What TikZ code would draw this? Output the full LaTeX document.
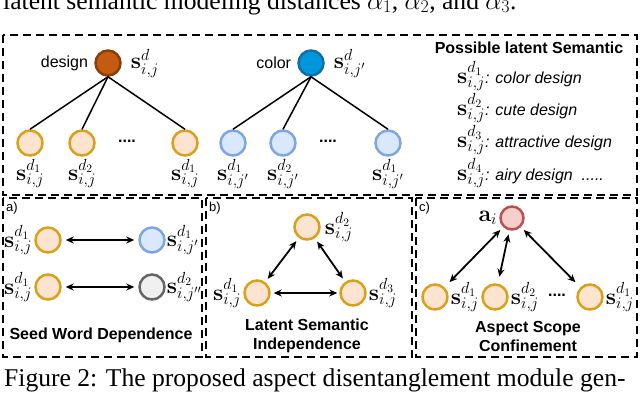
\RequirePackage{fix-cm}
\documentclass[tikz,border=0pt]{standalone}
\usepackage[no-math]{fontspec}
\setmainfont{Liberation Serif}
\setsansfont{Liberation Sans}
\usetikzlibrary{arrows.meta,positioning}
\definecolor{seedbrown}{RGB}{197,90,17}
\definecolor{seedbrowndark}{RGB}{140,62,10}
\definecolor{seedblue}{RGB}{0,150,219}
\definecolor{seedbluedark}{RGB}{16,110,170}
\definecolor{latfill}{RGB}{252,228,208}
\definecolor{latdraw}{RGB}{218,160,28}
\definecolor{bluefill}{RGB}{218,232,252}
\definecolor{bluedraw}{RGB}{126,166,224}
\definecolor{greyfill}{RGB}{240,240,240}
\definecolor{greydraw}{RGB}{102,102,102}
\definecolor{aspfill}{RGB}{248,206,204}
\definecolor{aspdraw}{RGB}{184,84,80}
\newcommand{\sv}[2]{{\fontsize{23}{27}\selectfont$\mathbf{s}^{#1}_{#2}$}}

\begin{document}
\begin{tikzpicture}[x=1pt, y=-1pt,
      node distance=2pt,
      dot/.style={circle, minimum size=25pt, inner sep=0pt, line width=2.5pt},
      seedd/.style={dot, draw=seedbrowndark, fill=seedbrown},
      seedc/.style={dot, draw=seedbluedark, fill=seedblue},
      lat/.style={dot, draw=latdraw, fill=latfill},
      blu/.style={dot, draw=bluedraw, fill=bluefill},
      gry/.style={dot, draw=greydraw, fill=greyfill},
      asp/.style={dot, minimum size=23pt, draw=aspdraw, fill=aspfill},
      lbl/.style={inner sep=0pt},
      word/.style={inner sep=0pt, font=\sffamily\fontsize{16}{19}\selectfont},
      legend/.style={inner sep=0pt, anchor=west, font=\sffamily\itshape\fontsize{16}{19}\selectfont},
      heading/.style={inner sep=0pt, align=center, font=\sffamily\bfseries\fontsize{16}{19}\selectfont},
      ptag/.style={inner sep=0pt, anchor=north west, font=\sffamily\fontsize{13}{15}\selectfont},
      capt/.style={inner sep=0pt, anchor=base west, font=\fontsize{25.6}{30}\selectfont},
      panel/.style={draw, line width=2pt, dash pattern=on 8pt off 5pt},
      link/.style={line width=1.5pt},
      arr/.style={{Stealth[length=8pt,width=7pt]}-{Stealth[length=8pt,width=7pt]},
                  line width=1.8pt, shorten <=4pt, shorten >=4pt}]
    \useasboundingbox (0,0) rectangle (640,392);

    % caption lines cut by the frame
    \node[capt] (prevline) at (3,9) {latent semantic modeling distances $\alpha_1$, $\alpha_2$, and $\alpha_3$.};
    \node[capt] (caption) at (4,386) {Figure 2: The proposed aspect disentanglement module gen-};

    % frames
    \draw[panel] (3,35) rectangle (637,195);
    \draw[panel] (3,198) rectangle (202,357);
    \draw[panel] (206,198) rectangle (412,357);
    \draw[panel] (416,198) rectangle (637,357);

    % seed word trees
    \node[seedd] (design) at (108,63) {};
    \node[word, left=6pt of design] (designw) {design};
    \node[lbl, right=9pt of design] (designs) {\sv{d}{i,j}};
    \node[lat] (d1) at (30,143) {};
    \node[lat] (d2) at (82,143) {};
    \node[lat] (dl) at (185,143) {};
    \node[word] (ddots) at (127,141) {\textbf{....}};
    \node[lbl, below=2pt of d1] {\sv{d_1}{i,j}};
    \node[lbl, below=2pt of d2] {\sv{d_2}{i,j}};
    \node[lbl, below=2pt of dl] {\sv{d_1}{i,j}};
    \draw[link] (design.south) -- (d1.north);
    \draw[link] (design.south) -- (d2.north);
    \draw[link] (design.south) -- (dl.north);

    \node[seedc] (color) at (311,63) {};
    \node[word, left=6pt of color] (colorw) {color};
    \node[lbl, right=9pt of color] (colors) {\sv{d}{i,j'}};
    \node[blu] (c1) at (233,143) {};
    \node[blu] (c2) at (283,143) {};
    \node[blu] (cl) at (388,143) {};
    \node[word] (cdots) at (328,141) {\textbf{....}};
    \node[lbl, below=2pt of c1] {\sv{d_1}{i,j'}};
    \node[lbl, below=2pt of c2] {\sv{d_2}{i,j'}};
    \node[lbl, below=2pt of cl] {\sv{d_1}{i,j'}};
    \draw[link] (color.south) -- (c1.north);
    \draw[link] (color.south) -- (c2.north);
    \draw[link] (color.south) -- (cl.north);

    % possible semantics
    \node[heading] (legtitle) at (529,48) {Possible latent Semantic};
    \node[legend] (leg1) at (457,76) {\sv{d_1}{i,j}: color design};
    \node[legend] (leg2) at (457,108) {\sv{d_2}{i,j}: cute design};
    \node[legend] (leg3) at (457,140) {\sv{d_3}{i,j}: attractive design};
    \node[legend] (leg4) at (457,173) {\sv{d_4}{i,j}: airy design\ \ .....};

    % a) seed word dependence
    \node[ptag] (atag) at (6,202) {a)};
    \node[lat] (a1) at (48,240) {};
    \node[blu] (a2) at (152,240) {};
    \node[lat] (a3) at (48,287) {};
    \node[gry] (a4) at (152,287) {};
    \node[lbl, left=2pt of a1] {\sv{d_1}{i,j}};
    \node[lbl, right=1pt of a2] {\sv{d_1}{i,j'}};
    \node[lbl, left=2pt of a3] {\sv{d_1}{i,j}};
    \node[lbl, right=1pt of a4] {\sv{d_2}{i,j''}};
    \draw[arr] (a1) -- (a2);
    \draw[arr] (a3) -- (a4);
    \node[heading] (atitle) at (101,335) {Seed Word Dependence};

    % b) latent semantic independence
    \node[ptag] (btag) at (209,202) {b)};
    \node[lat] (btop) at (307,227) {};
    \node[lat] (bleft) at (257,293) {};
    \node[lat] (bright) at (353,293) {};
    \node[lbl, right=4pt of btop] {\sv{d_2}{i,j}};
    \node[lbl, left=2pt of bleft] {\sv{d_1}{i,j}};
    \node[lbl, right=2pt of bright] {\sv{d_3}{i,j}};
    \draw[arr] (btop) -- (bleft);
    \draw[arr] (btop) -- (bright);
    \draw[arr, shorten <=3pt, shorten >=2pt] (bleft) -- (bright);
    \node[heading] (btitle) at (307,336) {Latent Semantic\\Independence};

    % c) aspect scope confinement
    \node[ptag] (ctag) at (419,202) {c)};
    \node[asp] (aspect) at (512,218) {};
    \node[lbl, left=2pt of aspect] {{\fontsize{23}{27}\selectfont$\mathbf{a}_i$}};
    \node[lat] (s1) at (435,297) {};
    \node[lat] (s2) at (495,297) {};
    \node[lat] (sl) at (590,297) {};
    \node[lbl, right=2pt of s1] {\sv{d_1}{i,j}};
    \node[lbl, right=2pt of s2] {\sv{d_2}{i,j}};
    \node[lbl, right=2pt of sl] {\sv{d_1}{i,j}};
    \node[word] (sdots) at (557,295) {\textbf{....}};
    \draw[arr, shorten >=7pt] (aspect) -- (s1);
    \draw[arr, shorten >=7pt] (aspect) -- (s2);
    \draw[arr, shorten >=7pt] (aspect) -- (sl);
    \node[heading] (ctitle) at (528,336) {Aspect Scope\\Confinement};
\end{tikzpicture}
\end{document}
